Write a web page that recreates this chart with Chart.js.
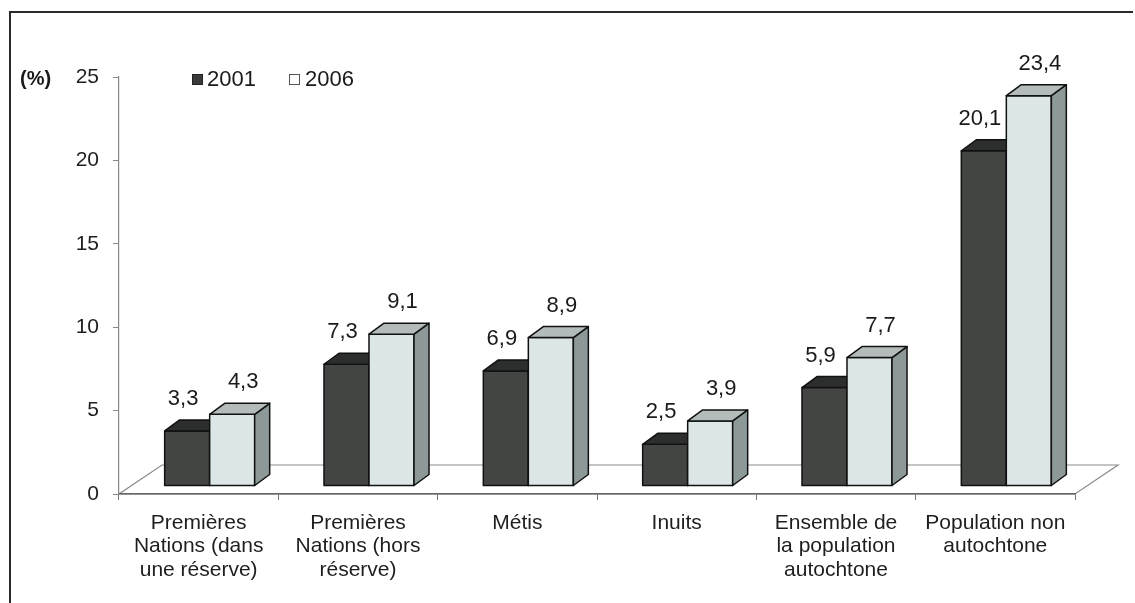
<!DOCTYPE html>
<html>
<head>
<meta charset="utf-8">
<script src="https://cdn.jsdelivr.net/npm/chart.js@4.4.1/dist/chart.umd.min.js"></script>
<style>
  html, body { margin: 0; padding: 0; background: #fff; }
  #wrap { position: relative; width: 1135px; height: 603px; }
</style>
</head>
<body>
<div id="wrap"><canvas id="c" width="1135" height="603"></canvas></div>
<script>
const categories = [
  ["Premières", "Nations (dans", "une réserve)"],
  ["Premières", "Nations (hors", "réserve)"],
  "Métis",
  "Inuits",
  ["Ensemble de", "la population", "autochtone"],
  ["Population non", "autochtone"]
];
const seriesNames = ["2001", "2006"];
const values2001 = [3.3, 7.3, 6.9, 2.5, 5.9, 20.1];
const values2006 = [4.3, 9.1, 8.9, 3.9, 7.7, 23.4];
const yTicks = [0, 5, 10, 15, 20, 25];
const yUnit = "(%)";

const FONT = "'Liberation Sans', Arial, sans-serif";
const DX = 15, DY = -11;           // 3D depth of bars
const SHIFT_X = 11, SHIFT_Y = -8;  // bars sit inside the floor depth
const FLOOR_DX = 43, FLOOR_DY = -29;

const faceColors = [
  { front: '#434543', top: '#2c2e2d', side: '#363837' },
  { front: '#dce6e6', top: '#b3bbbb', side: '#8d9898' }
];

const frameAndFloor = {
  id: 'frameAndFloor',
  beforeDraw(chart) {
    const { ctx, chartArea: a } = chart;
    ctx.save();
    ctx.beginPath();
    ctx.moveTo(a.left, a.bottom);
    ctx.lineTo(a.right, a.bottom);
    ctx.lineTo(a.right + FLOOR_DX, a.bottom + FLOOR_DY);
    ctx.lineTo(a.left + FLOOR_DX, a.bottom + FLOOR_DY);
    ctx.closePath();
    ctx.fillStyle = '#ffffff';
    ctx.fill();
    ctx.strokeStyle = '#8a8a8a';
    ctx.lineWidth = 1.2;
    ctx.stroke();
    ctx.restore();
  },
  afterDraw(chart) {
    const { ctx } = chart;
    ctx.save();
    ctx.strokeStyle = '#2a2a2a';
    ctx.lineWidth = 2;
    ctx.beginPath();
    ctx.moveTo(10, 603);
    ctx.lineTo(10, 12);
    ctx.lineTo(1133, 12);
    ctx.stroke();
    ctx.fillStyle = '#1a1a1a';
    ctx.font = 'bold 20px ' + FONT;
    ctx.textBaseline = 'middle';
    ctx.textAlign = 'left';
    ctx.fillText(yUnit, 20, 79);
    ctx.font = '22px ' + FONT;
    ctx.lineWidth = 1;
    ctx.fillStyle = '#3a3a3a';
    ctx.strokeStyle = '#222';
    ctx.fillRect(192.5, 74.5, 10, 10);
    ctx.strokeRect(192.5, 74.5, 10, 10);
    ctx.fillStyle = '#1a1a1a';
    ctx.fillText(seriesNames[0], 207, 80);
    ctx.fillStyle = '#ffffff';
    ctx.strokeStyle = '#555';
    ctx.fillRect(289.5, 74.5, 10, 10);
    ctx.strokeRect(289.5, 74.5, 10, 10);
    ctx.fillStyle = '#1a1a1a';
    ctx.fillText(seriesNames[1], 305, 80);
    ctx.restore();
  }
};

const bars3d = {
  id: 'bars3d',
  beforeDatasetsDraw(chart) {
    chart.ctx.save();
    chart.ctx.translate(SHIFT_X, SHIFT_Y);
  },
  afterDatasetsDraw(chart) {
    const { ctx } = chart;
    const metas = chart.data.datasets.map((d, i) => chart.getDatasetMeta(i));
    ctx.save();
    ctx.lineWidth = 1.5;
    ctx.strokeStyle = '#111';
    ctx.lineJoin = 'round';
    const n = chart.data.labels.length;
    for (let i = 0; i < n; i++) {
      metas.forEach((meta, di) => {
        const col = faceColors[di];
        const p = meta.data[i].getProps(['x', 'y', 'base', 'width'], true);
        const l = p.x - p.width / 2, r = p.x + p.width / 2, t = p.y, b = p.base;
        // front
        ctx.fillStyle = col.front;
        ctx.fillRect(l, t, r - l, b - t);
        ctx.strokeRect(l, t, r - l, b - t);
        // side
        ctx.beginPath();
        ctx.moveTo(r, t); ctx.lineTo(r + DX, t + DY); ctx.lineTo(r + DX, b + DY); ctx.lineTo(r, b);
        ctx.closePath();
        ctx.fillStyle = col.side; ctx.fill(); ctx.stroke();
        // top
        ctx.beginPath();
        ctx.moveTo(l, t); ctx.lineTo(r, t); ctx.lineTo(r + DX, t + DY); ctx.lineTo(l + DX, t + DY);
        ctx.closePath();
        ctx.fillStyle = col.top; ctx.fill(); ctx.stroke();
      });
    }
    // value labels
    ctx.font = '22px ' + FONT;
    ctx.fillStyle = '#1a1a1a';
    ctx.textAlign = 'center';
    ctx.textBaseline = 'middle';
    const offs = [-4, 11];
    chart.data.datasets.forEach((ds, di) => {
      metas[di].data.forEach((bar, i) => {
        const p = bar.getProps(['x', 'y'], true);
        ctx.fillText(String(ds.data[i]).replace('.', ','), p.x + offs[di], p.y + DY - 21);
      });
    });
    ctx.restore();
    ctx.restore(); // undo translate
  }
};

new Chart(document.getElementById('c'), {
  type: 'bar',
  data: {
    labels: categories,
    datasets: [
      { label: seriesNames[0], data: values2001, backgroundColor: faceColors[0].front,
        borderWidth: 0, clip: false },
      { label: seriesNames[1], data: values2006, backgroundColor: faceColors[1].front,
        borderWidth: 0, clip: false }
    ]
  },
  options: {
    responsive: false,
    animation: false,
    events: [],
    layout: { padding: { top: 77, right: 60, bottom: 0, left: 0 } },
    datasets: { bar: { categoryPercentage: 0.565, barPercentage: 1.0 } },
    plugins: { legend: { display: false }, tooltip: { enabled: false } },
    scales: {
      x: {
        grid: { drawOnChartArea: false, drawTicks: true, tickLength: 6, color: '#777', offset: true },
        border: { display: true, color: '#666', width: 1.5 },
        ticks: {
          color: '#1e1e1e', padding: 11, maxRotation: 0, autoSkip: false,
          font: { family: FONT, size: 21, lineHeight: 1.12 }
        },
        afterFit(scale) { scale.height = 109; }
      },
      y: {
        min: 0, max: 25,
        afterBuildTicks(scale) { scale.ticks = yTicks.map(v => ({ value: v })); },
        grid: { drawOnChartArea: false, drawTicks: true, tickLength: 6, color: '#888' },
        border: { display: true, color: '#888', width: 1.2 },
        ticks: { color: '#1e1e1e', padding: 14, font: { family: FONT, size: 21 } },
        afterFit(scale) { scale.width = 119; }
      }
    }
  },
  plugins: [frameAndFloor, bars3d]
});
</script>
</body>
</html>
